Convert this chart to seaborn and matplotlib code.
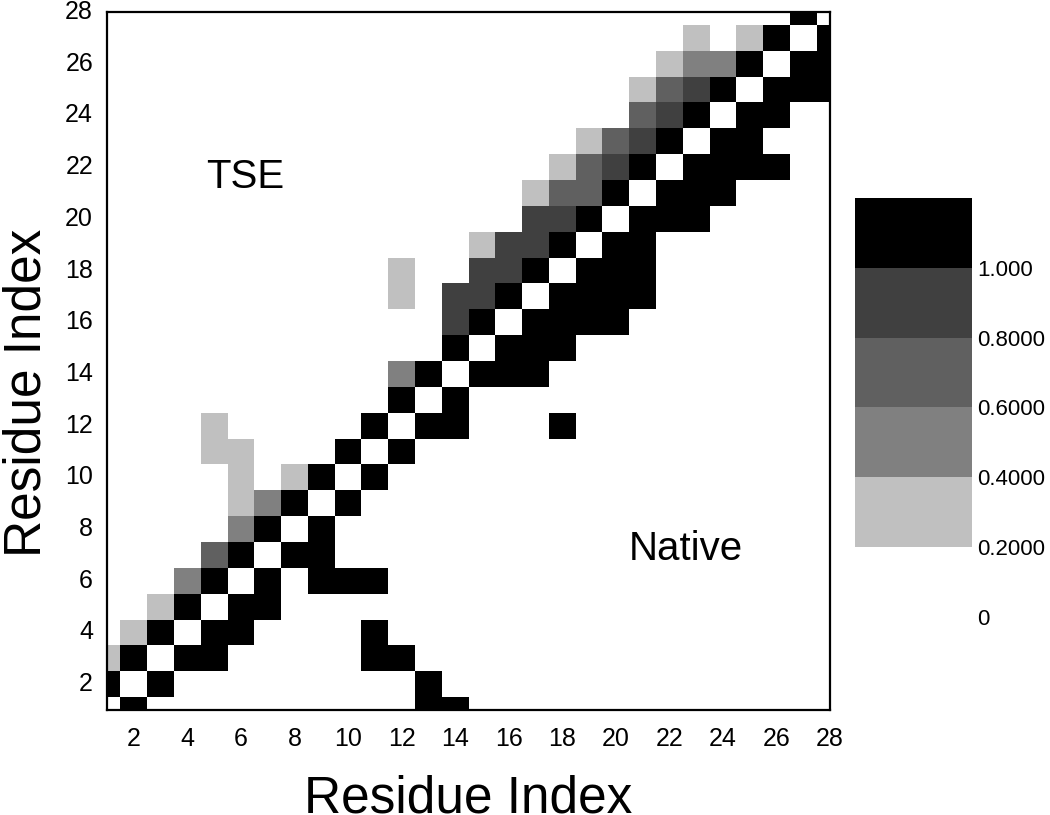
import numpy as np
import pandas as pd
import matplotlib
matplotlib.use("Agg")
import matplotlib.pyplot as plt
from matplotlib.colors import ListedColormap, BoundaryNorm
import seaborn as sns

sns.set_style("white")
plt.rcParams['font.family'] = ['Liberation Sans', 'DejaVu Sans']
plt.rcParams['text.color'] = 'black'
plt.rcParams['axes.labelcolor'] = 'black'
plt.rcParams['xtick.color'] = 'black'
plt.rcParams['ytick.color'] = 'black'

n_res = 28
residues = list(range(1, n_res + 1))
tick_vals = list(range(2, n_res + 1, 2))

# native contacts (lower-right triangle), (x residue, y residue)
native_contacts = [
    (2, 1), (13, 1), (14, 1),
    (3, 2), (13, 2),
    (4, 3), (5, 3), (11, 3), (12, 3),
    (5, 4), (6, 4), (11, 4),
    (6, 5), (7, 5),
    (7, 6), (9, 6), (10, 6), (11, 6),
    (8, 7), (9, 7),
    (9, 8),
    (10, 9),
    (11, 10),
    (12, 11),
    (13, 12), (14, 12), (18, 12),
    (14, 13),
    (15, 14), (16, 14), (17, 14),
    (16, 15), (17, 15), (18, 15),
    (17, 16), (18, 16), (19, 16), (20, 16),
    (18, 17), (19, 17), (20, 17), (21, 17),
    (19, 18), (20, 18), (21, 18),
    (20, 19), (21, 19),
    (21, 20), (22, 20), (23, 20),
    (22, 21), (23, 21), (24, 21),
    (23, 22), (24, 22), (25, 22), (26, 22),
    (24, 23), (25, 23),
    (25, 24), (26, 24),
    (26, 25), (27, 25), (28, 25),
    (27, 26), (28, 26),
    (28, 27),
]

# TSE contact probabilities (upper-left triangle), grouped by level
tse_1_0 = [(i, i + 1) for i in range(1, n_res)]
tse_0_9 = [(14, 16), (14, 17), (15, 17), (15, 18), (16, 18), (16, 19), (17, 19),
           (17, 20), (18, 20), (20, 22), (21, 23), (22, 24), (23, 25)]
tse_0_7 = [(5, 7), (18, 21), (19, 21), (19, 22), (20, 23), (21, 24), (22, 25)]
tse_0_5 = [(4, 6), (6, 8), (7, 9), (12, 14), (23, 26), (24, 26)]
tse_0_3 = [(1, 3), (2, 4), (3, 5), (6, 9), (6, 10), (8, 10), (5, 11), (6, 11),
           (5, 12), (12, 17), (12, 18), (15, 19), (17, 21), (18, 22), (19, 23),
           (21, 25), (22, 26), (23, 27), (25, 27)]

levels = [0, 0.2, 0.4, 0.6, 0.8, 1.0, 1.2]
level_colors = ['white', '#c0c0c0', '#808080', '#606060', '#404040', 'black']
cbar_labels = ['0', '0.2000', '0.4000', '0.6000', '0.8000', '1.000']

mat = np.zeros((n_res, n_res))
for val, cells in [(1.0, native_contacts), (1.0, tse_1_0), (0.9, tse_0_9),
                   (0.7, tse_0_7), (0.5, tse_0_5), (0.3, tse_0_3)]:
    for x, y in cells:
        mat[y - 1, x - 1] = val
df = pd.DataFrame(mat, index=residues, columns=residues)

cmap = ListedColormap(level_colors)
norm = BoundaryNorm(levels, cmap.N)

fig = plt.figure(figsize=(10.5, 8.15), dpi=100)
ax = fig.add_axes([107 / 1050, 105 / 815, 723 / 1050, 698 / 815])
cax = fig.add_axes([855 / 1050, 198 / 815, 117 / 1050, 419 / 815])

sns.heatmap(df, ax=ax, cbar_ax=cax, cmap=cmap, norm=norm, linewidths=0,
            cbar_kws={'ticks': levels[:-1]})

ax.set_xlim(0.5, n_res - 0.5)
ax.set_ylim(0.5, n_res - 0.5)
ax.set_xticks([t - 0.5 for t in tick_vals])
ax.set_xticklabels([str(t) for t in tick_vals], rotation=0)
ax.set_yticks([t - 0.5 for t in tick_vals])
ax.set_yticklabels([str(t) for t in tick_vals], rotation=0)
for sp in ax.spines.values():
    sp.set_visible(True)
    sp.set_linewidth(1.6)
    sp.set_color('black')
ax.tick_params(axis='both', direction='in', length=10, width=1.5,
               labelsize=18, color='black')
ax.tick_params(axis='x', pad=12)
ax.tick_params(axis='y', pad=10)
ax.set_xlabel('Residue Index', fontsize=37)
ax.set_ylabel('Residue Index', fontsize=37)
ax.xaxis.set_label_coords(0.5, -0.092)
ax.yaxis.set_label_coords(-0.077, 0.455)

ax.text(0.191, 0.764, 'TSE', transform=ax.transAxes, fontsize=29,
        ha='center', va='center')
ax.text(0.80, 0.231, 'Native', transform=ax.transAxes, fontsize=29,
        ha='center', va='center')

cbar = ax.collections[0].colorbar
cbar.outline.set_visible(False)
cbar.minorticks_off()
cbar.set_ticks(levels[:-1])
cbar.set_ticklabels(cbar_labels)
cax.tick_params(length=0, labelsize=16, pad=4)
for sp in cax.spines.values():
    sp.set_visible(False)

fig.savefig('out.png', dpi=100)
